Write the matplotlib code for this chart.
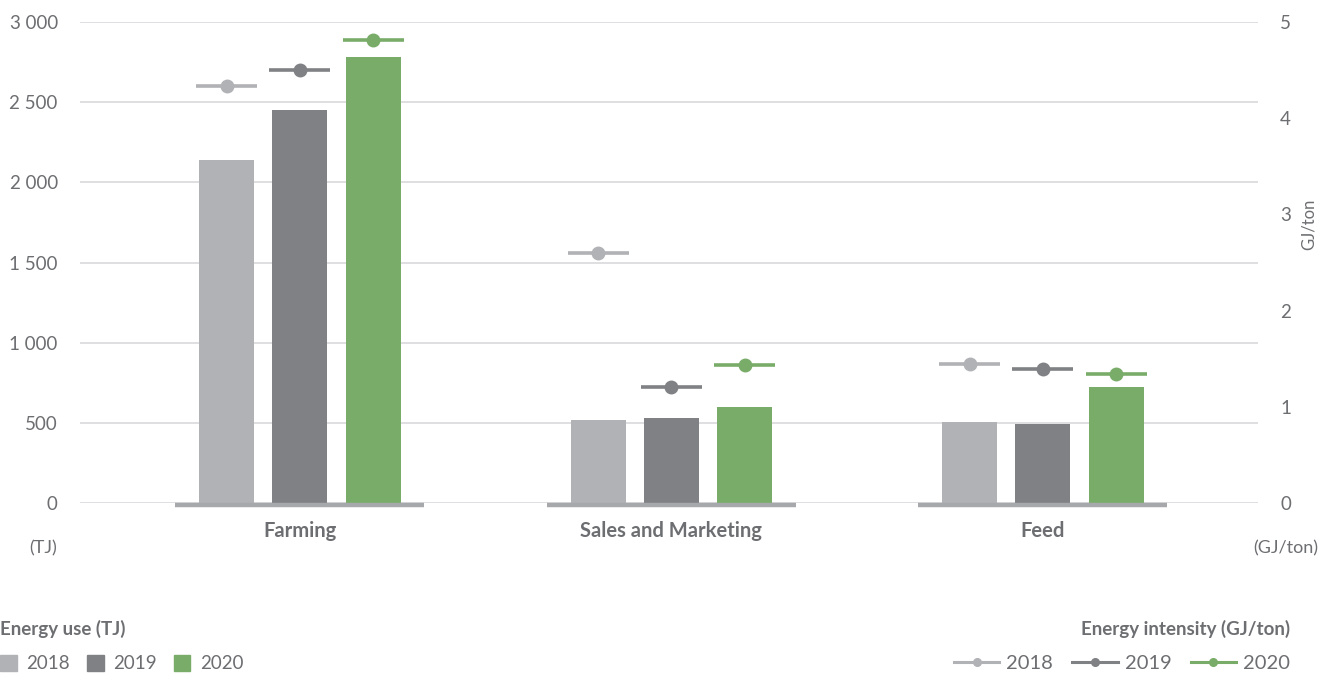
import matplotlib
matplotlib.use("Agg")
import matplotlib.pyplot as plt
from matplotlib.lines import Line2D
from matplotlib.patches import Patch
import numpy as np

categories = ["Farming", "Sales and Marketing", "Feed"]
years = ["2018", "2019", "2020"]
energy_use = {
    "2018": [2140, 518, 505],
    "2019": [2450, 530, 493],
    "2020": [2780, 600, 724],
}
energy_intensity = {
    "2018": [4.33, 2.60, 1.44],
    "2019": [4.50, 1.21, 1.39],
    "2020": [4.81, 1.43, 1.34],
}
left_ticks = [0, 500, 1000, 1500, 2000, 2500, 3000]
left_tick_labels = ["0", "500", "1 000", "1 500", "2 000", "2 500", "3 000"]
right_ticks = [0, 1, 2, 3, 4, 5]

colors = {"2018": "#b1b2b5", "2019": "#808184", "2020": "#79ac69"}
text_color = "#6d6e71"
grid_color = "#d9d9db"
base_color = "#a7a8ab"

plt.rcParams["font.family"] = ["Lato", "DejaVu Sans"]

fig = plt.figure(figsize=(13.36, 6.75), dpi=100)
ax = fig.add_axes([0.0599, 0.2548, 0.8817, 0.7126])
ax2 = ax.twinx()

x = np.arange(len(categories))
bar_w = 0.148
offset = 0.197

for i, yr in enumerate(years):
    pos = x + (i - 1) * offset
    ax.bar(pos, energy_use[yr], width=bar_w, color=colors[yr], zorder=3)
    for p, v in zip(pos, energy_intensity[yr]):
        ax2.plot([p - 0.082, p + 0.082], [v, v], color=colors[yr], lw=2.6,
                 solid_capstyle="butt", zorder=4)
        ax2.plot([p], [v], marker="o", ms=9, color=colors[yr], zorder=5)

# thick base segments under each group
for c in x:
    ax.plot([c - 0.335, c + 0.335], [-12, -12], color=base_color, lw=3.2,
            solid_capstyle="butt", zorder=4, clip_on=False)

ax.set_xlim(-0.592, 2.579)
ax.set_ylim(0, 3000)
ax2.set_ylim(0, 5)

ax.set_yticks(left_ticks)
ax.set_yticklabels(left_tick_labels)
ax2.set_yticks(right_ticks)
ax.grid(axis="y", color=grid_color, lw=1.2, zorder=0)
ax.set_axisbelow(True)

ax.set_xticks(x)
ax.set_xticklabels(categories, fontweight="bold")
for a in (ax, ax2):
    for s in a.spines.values():
        s.set_visible(False)
    a.tick_params(length=0, colors=text_color, labelsize=13.5)
ax.tick_params(axis="y", pad=16)
ax2.tick_params(axis="y", pad=16)
ax.tick_params(axis="x", pad=13, labelsize=14.5)

ax2.set_ylabel("GJ/ton", color=text_color, fontsize=12)
ax2.yaxis.set_label_coords(1.036, 0.58)

fig.text(57 / 1336, 1 - 548 / 675, "(TJ)", ha="right", va="center",
         color=text_color, fontsize=13)
fig.text(1318 / 1336, 1 - 548 / 675, "(GJ/ton)", ha="right", va="center",
         color=text_color, fontsize=13)

# legends
bar_handles = [Patch(color=colors[yr]) for yr in years]
leg1 = fig.legend(bar_handles, years, loc="lower left", bbox_to_anchor=(0.0, 0.004),
                  ncol=3, frameon=False, title="Energy use (TJ)", alignment="left",
                  borderpad=0, borderaxespad=0, labelspacing=0.9,
                  handlelength=0.9, handleheight=0.9, handletextpad=0.5,
                  columnspacing=0.9, fontsize=13.5, labelcolor=text_color)
leg1.get_title().set_fontweight("bold")
leg1.get_title().set_color(text_color)
leg1.get_title().set_fontsize(13.5)

line_handles = [Line2D([0], [0], color=colors[yr], lw=2.2, marker="o", ms=5.5)
                for yr in years]
leg2 = fig.legend(line_handles, years, loc="lower right", bbox_to_anchor=(0.9656, 0.004),
                  ncol=3, frameon=False, title="Energy intensity (GJ/ton)", alignment="right",
                  borderpad=0, borderaxespad=0, labelspacing=0.85,
                  handlelength=2.25, handletextpad=0.35, columnspacing=0.95,
                  fontsize=14.5, labelcolor=text_color)
leg2.get_title().set_fontweight("bold")
leg2.get_title().set_color(text_color)
leg2.get_title().set_fontsize(13.5)

fig.savefig("out.png", dpi=100)
